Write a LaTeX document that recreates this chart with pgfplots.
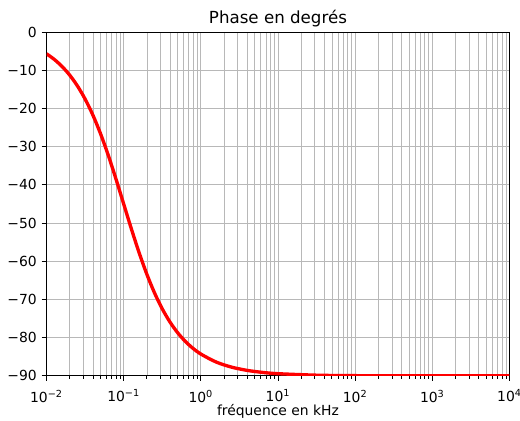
\documentclass[border=0pt]{standalone}
\usepackage{fontspec}
\setmainfont{DejaVu Sans}
\usepackage{pgfplots}
\pgfplotsset{compat=1.18}

\pgfplotstableread{
f phase
0.01 -5.711
0.012589 -7.176
0.015849 -9.006
0.019953 -11.284
0.025119 -14.100
0.031623 -17.548
0.039811 -21.706
0.050119 -26.619
0.063096 -32.249
0.079433 -38.463
0.1 -45.000
0.12589 -51.537
0.15849 -57.751
0.19953 -63.381
0.25119 -68.294
0.31623 -72.452
0.39811 -75.900
0.50119 -78.716
0.63096 -80.994
0.79433 -82.824
1.0 -84.289
1.5849 -86.389
2.5119 -87.720
3.9811 -88.561
6.3096 -89.092
10 -89.427
31.623 -89.819
100 -89.943
1000 -89.994
10000 -89.999
}\phasedata

\begin{document}
\begin{tikzpicture}
\useasboundingbox (-33.5pt,-32.4pt) rectangle (341pt,270.7pt);
\begin{axis}[
    name=ax,
    at={(0,0)}, anchor=south west,
    scale only axis,
    width=333.4pt, height=247.7pt,
    xmode=log,
    xmin=0.01, xmax=10000,
    ymin=-90, ymax=0,
    xtick={0.01,0.1,1,10,100,1000,10000},
    xticklabels={10\textsuperscript{−2},10\textsuperscript{−1},10\textsuperscript{0},10\textsuperscript{1},10\textsuperscript{2},10\textsuperscript{3},10\textsuperscript{4}},
    ytick={-90,-80,...,0},
    yticklabels={−90,−80,−70,−60,−50,−40,−30,−20,−10,0},
    grid=both,
    major grid style={color=black!28, line width=0.55pt},
    minor grid style={color=black!28, line width=0.55pt},
    tick align=outside,
    tick pos=left,
    major tick length=3.5pt,
    minor tick length=2pt,
    tick style={black, line width=0.6pt},
    axis line style={black, line width=0.6pt},
    ticklabel style={font=\fontsize{10}{12}\selectfont},
    xticklabel style={yshift=-3pt},
    xlabel={fréquence en kHz},
    xlabel style={font=\fontsize{10}{12}\selectfont, yshift=5pt},
    title={Phase en degrés},
    title style={font=\fontsize{12}{14}\selectfont, yshift=-6pt},
]
\addplot[red, line width=2.4pt, no marks, smooth] table[x=f, y=phase] {\phasedata};
\end{axis}
\end{tikzpicture}
\end{document}
